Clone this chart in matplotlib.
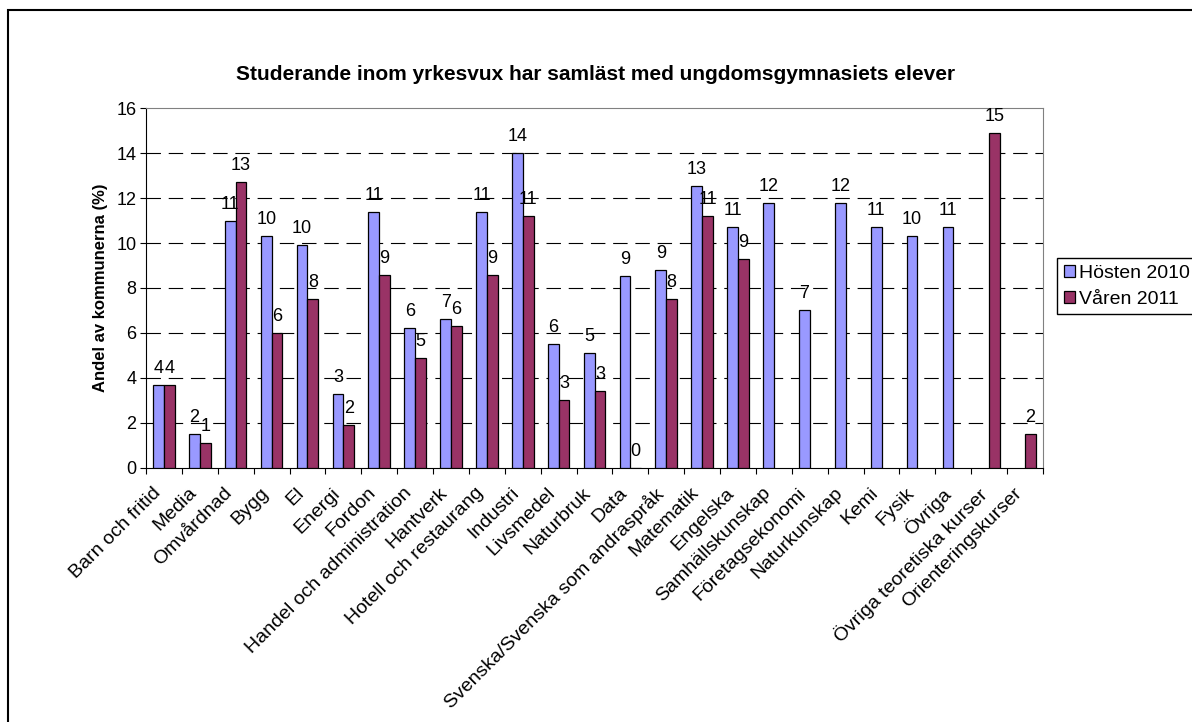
import matplotlib
matplotlib.use("Agg")
import matplotlib.pyplot as plt
import matplotlib.transforms as mtransforms
import numpy as np
from matplotlib.patches import Rectangle

plt.rcParams["font.family"] = ["Liberation Sans", "DejaVu Sans"]

categories = ["Barn och fritid", "Media", "Omvårdnad", "Bygg", "El", "Energi", "Fordon",
              "Handel och administration", "Hantverk", "Hotell och restaurang", "Industri",
              "Livsmedel", "Naturbruk", "Data", "Svenska/Svenska som andraspråk", "Matematik",
              "Engelska", "Samhällskunskap", "Företagsekonomi", "Naturkunskap", "Kemi", "Fysik",
              "Övriga", "Övriga teoretiska kurser", "Orienteringskurser"]
# Hösten 2010 / Våren 2011 (nan = no bar)
hosten = [3.7, 1.5, 11.0, 10.3, 9.9, 3.3, 11.4, 6.2, 6.6, 11.4, 14.0, 5.5, 5.1, 8.55, 8.8, 12.55,
          10.7, 11.8, 7.0, 11.8, 10.7, 10.3, 10.7, np.nan, np.nan]
varen = [3.7, 1.1, 12.7, 6.0, 7.5, 1.9, 8.6, 4.9, 6.3, 8.6, 11.2, 3.0, 3.4, 0.0, 7.5, 11.2,
         9.3, np.nan, np.nan, np.nan, np.nan, np.nan, np.nan, 14.9, 1.5]
series = [("Hösten 2010", hosten, "#9999FF"), ("Våren 2011", varen, "#993366")]

W, H = 1192, 722
fig = plt.figure(figsize=(W / 100, H / 100), dpi=100)
ax = fig.add_axes([146 / W, 1 - 467.7 / H, (1043 - 146) / W, (467.7 - 108.3) / H])

x = np.arange(len(categories))
bw = 0.3
for i, (name, vals, color) in enumerate(series):
    vals = np.array(vals, dtype=float)
    pos = x + (i - 0.5) * bw
    ok = ~np.isnan(vals)
    ax.bar(pos[ok], vals[ok], bw, color=color, edgecolor="black", linewidth=0.9,
           label=name, zorder=3)
    for p, v in zip(pos[ok], vals[ok]):
        ax.annotate(f"{round(v):d}", (p, v), xytext=(0, 12), textcoords="offset pixels",
                    ha="center", va="baseline", fontsize=13, zorder=4)

ax.set_xlim(-0.5, len(categories) - 0.5)
ax.set_ylim(0, 16)
ax.set_yticks(range(0, 17, 2))
ax.tick_params(axis="y", labelsize=13, length=4, width=0.8, direction="out", pad=3)
ax.set_xticks(x)
ax.set_xticklabels(categories, rotation=45, ha="right", rotation_mode="anchor", fontsize=14)
ax.set_xticks(np.arange(-0.5, len(categories)), minor=True)
ax.tick_params(axis="x", which="major", length=0, pad=12)
ax.tick_params(axis="x", which="minor", length=4, width=0.8, direction="out")
shift = mtransforms.ScaledTranslation(-12 / 100, 0, fig.dpi_scale_trans)
for lab in ax.get_xticklabels():
    lab.set_transform(lab.get_transform() + shift)

for y in range(2, 16, 2):
    ax.axhline(y, color="black", linewidth=0.8, linestyle=(0, (13, 7)), zorder=1)

for s in ["top", "right"]:
    ax.spines[s].set_color("#808080")
for s in ["left", "bottom"]:
    ax.spines[s].set_color("black")

ax.set_ylabel("Andel av kommunerna (%)", fontsize=12, fontweight="bold", labelpad=6)

fig.text(0.5, 1 - 74 / H, "Studerande inom yrkesvux har samläst med ungdomsgymnasiets elever",
         ha="center", va="center", fontsize=15, fontweight="bold")

fig.legend(loc="upper left", bbox_to_anchor=(1057 / W, 1 - 258 / H), fontsize=14,
           frameon=True, fancybox=False, edgecolor="black", framealpha=1,
           handlelength=0.55, handleheight=0.55, handletextpad=0.25, borderpad=0.35,
           labelspacing=0.45, borderaxespad=0)

fig.patches.append(Rectangle((8 / W, -0.1), 1.2, 1 - 10 / H + 0.1, transform=fig.transFigure,
                             fill=False, edgecolor="black", linewidth=1.5))

fig.savefig("out.png", dpi=100)
